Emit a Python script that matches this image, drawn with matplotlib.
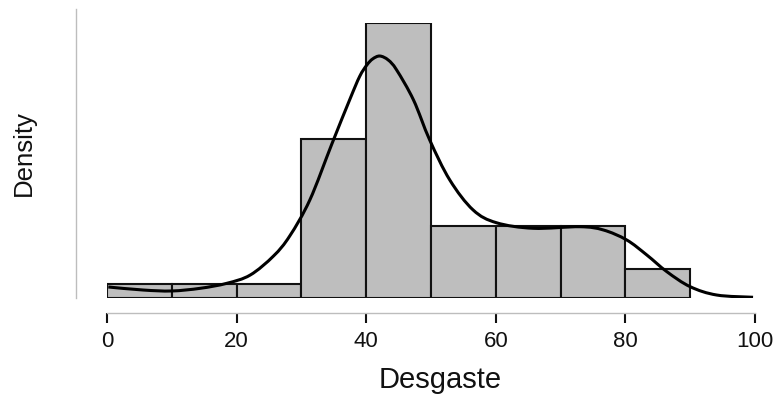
import matplotlib
matplotlib.use("Agg")
import matplotlib.pyplot as plt
from matplotlib.path import Path
from matplotlib.patches import PathPatch

plt.rcParams['font.family'] = ['Liberation Sans', 'DejaVu Sans']

# Histogram data (Desgaste)
bin_edges = [0, 10, 20, 30, 40, 50, 60, 70, 80, 90]
bin_counts = [1, 1, 1, 11, 19, 5, 5, 5, 2]

# Density curve
kde_x = [0.2, 5.6, 10.0, 14.4, 18.5, 22.1, 25.7, 28.2, 31.3, 34.7, 37.5, 39.0,
         40.1, 41.0, 42.1, 43.4, 44.7, 47.3, 49.8, 52.9, 56.5, 60.1, 65.8,
         73.0, 76.6, 80.2, 83.3, 86.4, 90.0, 94.1, 99.7]
kde_y = [0.00152, 0.00110, 0.00097, 0.00134, 0.00203, 0.00317, 0.00580, 0.00856,
         0.01353, 0.02126, 0.02747, 0.03060, 0.03216, 0.03300, 0.03340, 0.03285,
         0.03147, 0.02733, 0.02181, 0.01629, 0.01215, 0.01039, 0.00962,
         0.00984, 0.00939, 0.00801, 0.00594, 0.00363, 0.00156, 0.00041, 0.00010]

x_ticks = [0, 20, 40, 60, 80, 100]

W, H = 782, 400
fig = plt.figure(figsize=(W / 100, H / 100), dpi=100)
left_px, right_px, base_px, top_px = 107, 755, 298, 22.7
ax = fig.add_axes([left_px / W, (H - base_px) / H,
                   (right_px - left_px) / W, (base_px - top_px) / H])

total = sum(bin_counts)
centers = [(bin_edges[i] + bin_edges[i + 1]) / 2 for i in range(len(bin_counts))]
ax.hist(centers, bins=bin_edges, weights=bin_counts, density=True,
        facecolor='#bebebe', edgecolor='#111111', linewidth=1.5)

# smooth stroke through the read points (Catmull-Rom drawn as Bezier segments)
pts = list(zip(kde_x, kde_y))
verts = [pts[0]]
codes = [Path.MOVETO]
for i in range(len(pts) - 1):
    p0 = pts[i - 1] if i > 0 else pts[i]
    p1 = pts[i]
    p2 = pts[i + 1]
    p3 = pts[i + 2] if i + 2 < len(pts) else pts[i + 1]
    c1 = (p1[0] + (p2[0] - p0[0]) / 6, p1[1] + (p2[1] - p0[1]) / 6)
    c2 = (p2[0] - (p3[0] - p1[0]) / 6, p2[1] - (p3[1] - p1[1]) / 6)
    verts += [c1, c2, p2]
    codes += [Path.CURVE4] * 3
ax.add_patch(PathPatch(Path(verts, codes), facecolor='none', edgecolor='black',
                       linewidth=2.2, transform=ax.transData))

ax.set_xlim(0, 100)
ymax = max(c / (total * 10) for c in bin_counts)
ax.set_ylim(0, ymax)

for s in ['top', 'right']:
    ax.spines[s].set_visible(False)
ax.spines['bottom'].set_position(('outward', 14.5 * 0.72))
ax.spines['bottom'].set_color('#bdbdbd')
ax.spines['bottom'].set_linewidth(1.0)
ax.spines['bottom'].set_bounds(0, 100)
ax.spines['left'].set_position(('outward', 31.3 * 0.72))
ax.spines['left'].set_color('#bdbdbd')
ax.spines['left'].set_linewidth(1.0)
ax.spines['left'].set_bounds(0, ymax * (298 - 9) / (298 - 22.7))

ax.set_xticks(x_ticks)
ax.set_xticklabels([str(t) for t in x_ticks])
ax.tick_params(axis='x', direction='out', length=7.5, width=1.5, color='#111111',
               labelsize=16, pad=5.5, labelcolor='#111111')
ax.set_yticks([])
ax.patch.set_alpha(0)

fig.text(440 / W, 1 - 380 / H, 'Desgaste', ha='center', va='center',
         fontsize=21, color='#111111')
fig.text(24 / W, 1 - 153 / H, 'Density', ha='center', va='center', rotation=90,
         fontsize=18.5, color='#111111')

fig.savefig('out.png', dpi=100)
